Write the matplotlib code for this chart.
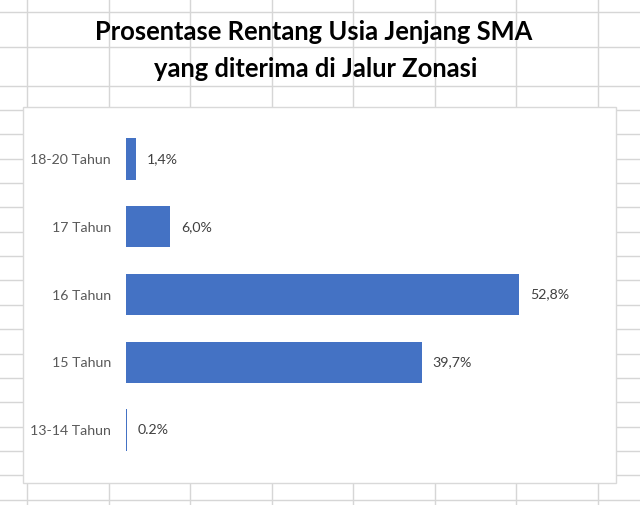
import matplotlib
matplotlib.use("Agg")
import matplotlib.pyplot as plt
from matplotlib.lines import Line2D
from matplotlib.patches import Rectangle

# ---- data ----
categories = ["13-14 Tahun", "15 Tahun", "16 Tahun", "17 Tahun", "18-20 Tahun"]
values = [0.2, 39.7, 52.8, 6.0, 1.4]
value_labels = ["0.2%", "39,7%", "52,8%", "6,0%", "1,4%"]
title_lines = ["Prosentase Rentang Usia Jenjang SMA", "yang diterima di Jalur Zonasi"]

W, H = 640, 505
fig = plt.figure(figsize=(W / 100, H / 100), dpi=100)
fig.patch.set_facecolor("white")

def fx(x):
    return x / W

def fy(y):
    return 1 - y / H

grid_col = "#d6d6d6"
# spreadsheet cell grid (background decoration)
for x in [27, 108.5, 190, 271.5, 353, 434.5, 516, 597.5]:
    fig.add_artist(Line2D([fx(x), fx(x)], [0, 1], color=grid_col, lw=1.0, zorder=0))
hlines = [12, 47, 86] + [110 + 24.35 * k for k in range(17)]
for y in hlines:
    fig.add_artist(Line2D([0, 1], [fy(y), fy(y)], color=grid_col, lw=1.0, zorder=0))

# chart area box
fig.add_artist(Rectangle((fx(23), fy(483)), fx(616) - fx(23), (483 - 107) / H,
                         facecolor="white", edgecolor="#d9d9d9", lw=1.0, zorder=1))

# title (cell text)
title_font = ["Lato", "DejaVu Sans"]
fig.text(fx(313.5), fy(40), title_lines[0], ha="center", va="baseline",
         fontsize=18.4, fontweight="bold", family=title_font, color="black", zorder=3)
fig.text(fx(315.5), fy(77), title_lines[1], ha="center", va="baseline",
         fontsize=18.4, fontweight="bold", family=title_font, color="black", zorder=3)

# axes: bars start at x=125.5 px, 7.46 px per percent
px_per = 7.46
left_px, right_px = 125.5, 600
top_px, bot_px = 125.1, 463.9
ax = fig.add_axes([fx(left_px), fy(bot_px), (right_px - left_px) / W, (bot_px - top_px) / H],
                  zorder=2)
ax.set_facecolor("none")
ypos = list(range(len(categories)))
ax.barh(ypos, values, height=0.612, color="#4472c4", edgecolor="none")
ax.set_xlim(0, (right_px - left_px) / px_per)
ax.set_ylim(-0.5, len(categories) - 0.5)
for s in ax.spines.values():
    s.set_visible(False)
ax.set_xticks([])
ax.set_yticks(ypos)
ax.set_yticklabels(categories, family=["Lato", "DejaVu Sans"], fontsize=10.2, color="#595959")
ax.tick_params(axis="y", length=0, pad=10.5)
for yi, v, lab in zip(ypos, values, value_labels):
    ax.annotate(lab, (v, yi), xytext=(7.8, 0), textcoords="offset points",
                ha="left", va="center", fontsize=10.2, color="#404040",
                family=["Lato", "DejaVu Sans"])

fig.savefig("out.png", dpi=100, facecolor="white")
